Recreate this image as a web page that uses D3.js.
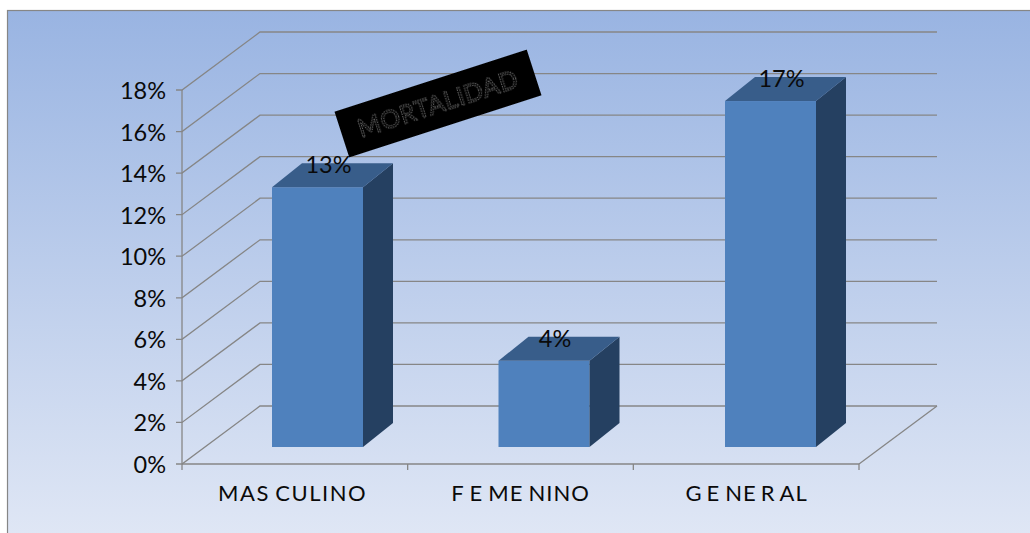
<!DOCTYPE html>
<html><head><meta charset="utf-8">
<script src="https://cdn.jsdelivr.net/npm/d3@7"></script>
<style>html,body{margin:0;padding:0;background:#fff}svg{display:block}text{font-family:Lato,"Open Sans",sans-serif}</style>
</head><body><svg id="c" width="1030" height="533"></svg>
<script>
const categories = ["MASCULINO","FEMENINO","GENERAL"];
const values = [12.5,4.15,16.65];
const valueLabels = ["13%","4%","17%"];
const yTicks = [0,2,4,6,8,10,12,14,16,18];
const titleText = "MORTALIDAD";

const svg = d3.select("#c");
const defs = svg.append("defs");
const g = defs.append("linearGradient").attr("id","bg").attr("x1",0).attr("y1",0).attr("x2",0).attr("y2",1);
g.append("stop").attr("offset","0%").attr("stop-color","#99b4e2");
g.append("stop").attr("offset","100%").attr("stop-color","#e0e7f5");
defs.append("filter").attr("id","gray").append("feColorMatrix").attr("type","saturate").attr("values",0);
svg.append("rect").attr("x",7.5).attr("y",10.5).attr("width",1030).attr("height",530)
  .attr("fill","url(#bg)").attr("stroke","#868686").attr("stroke-width",1.2);

const x = d3.scaleBand().domain(categories).range([182,859]);
const xBar = d3.scaleBand().domain(categories).range([204.25,883.75]);
const y = d3.scaleLinear().domain([0,18]).range([464,90]);
const wallDx = 78, wallDy = -58;
const barDx = 30, barDy = -24, barOffY = -17, barW = 91;
const grid = "#868686";

const lines = svg.append("g").attr("stroke",grid).attr("stroke-width",1.3).attr("fill","none");
yTicks.forEach(t=>{
  lines.append("path").attr("d",d3.line()([[176,y(t)],[182,y(t)],[182+wallDx,y(t)+wallDy],[859+wallDx,y(t)+wallDy]]));
});
lines.append("line").attr("x1",182).attr("x2",182).attr("y1",y(0)).attr("y2",y(18));
lines.append("line").attr("x1",182).attr("x2",859).attr("y1",y(0)).attr("y2",y(0));
lines.append("line").attr("x1",859).attr("x2",859+wallDx).attr("y1",y(0)).attr("y2",y(0)+wallDy);
[...categories.map(c=>x(c)),859].forEach(px=>{
  lines.append("line").attr("x1",px).attr("x2",px).attr("y1",y(0)).attr("y2",y(0)+6);
});

svg.append("g").selectAll("text").data(yTicks).join("text")
  .attr("x",166).attr("y",t=>y(t)+9).attr("text-anchor","end")
  .attr("font-size",23.5).attr("fill","#0a0a0a").text(t=>t+"%");

const catDx = ["-3 1.5 1.5 7 1.5 1.5 1.5 1.5 1.5","-0.5 6 6 1 6 1 1 1","0 5 6 1 5 5 1"];
const bars = svg.append("g");
categories.forEach((c,i)=>{
  const l = xBar(c)+xBar.bandwidth()/2 - barW/2, r = l+barW;
  const base = y(0)+barOffY, top = y(values[i])+barOffY;
  bars.append("rect").attr("x",l).attr("y",top).attr("width",barW).attr("height",base-top).attr("fill","#4f81bd");
  bars.append("path").attr("fill","#254061")
    .attr("d",d3.line()([[r,top],[r+barDx,top+barDy],[r+barDx,base+barDy],[r,base]])+"Z");
  bars.append("path").attr("fill","#385d8a")
    .attr("d",d3.line()([[l,top],[l+barDx,top+barDy],[r+barDx,top+barDy],[r,top]])+"Z");
  bars.append("text").attr("x",(l+r)/2+11).attr("y",top-14).attr("text-anchor","middle")
    .attr("font-size",23.5).attr("fill","#0a0a0a").text(valueLabels[i]);
  bars.append("text").attr("x",x(c)+x.bandwidth()/2).attr("y",501).attr("text-anchor","middle")
    .attr("font-size",22).attr("dx",catDx[i]).attr("fill","#0a0a0a").text(c);
});

const t = svg.append("g").attr("transform","translate(438,103.5) rotate(-17.9)").attr("filter","url(#gray)");
t.append("rect").attr("x",-101).attr("y",-24).attr("width",202).attr("height",48).attr("fill","#000");
t.append("text").attr("x",0).attr("y",9).attr("text-anchor","middle").attr("font-size",24.5)
  .attr("letter-spacing",0.8).attr("fill","#000").attr("stroke","#777").attr("stroke-width",0.9)
  .attr("stroke-dasharray","1.5 1").text(titleText);
</script></body></html>
